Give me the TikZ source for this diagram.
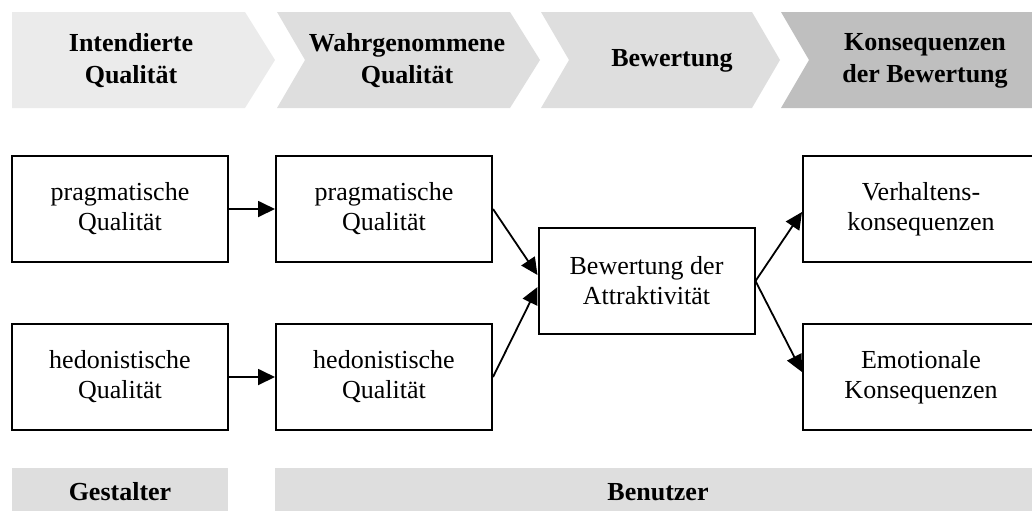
\documentclass[tikz,border=0pt]{standalone}
\usepackage{fontspec}
\setmainfont{Liberation Serif}
\usetikzlibrary{arrows.meta,calc}
\definecolor{chevA}{HTML}{EBEBEB}
\definecolor{chevB}{HTML}{DEDEDE}
\definecolor{chevC}{HTML}{BFBFBF}
\definecolor{barcol}{HTML}{DEDEDE}
\tikzset{
  box/.style={draw=black, line width=1pt, minimum width=108pt, minimum height=53pt,
    inner sep=0pt, align=center, font=\fontsize{13}{15}\selectfont},
  headtext/.style={align=center, font=\bfseries\fontsize{13}{16}\selectfont, inner sep=0pt},
  bartext/.style={font=\bfseries\fontsize{13}{15}\selectfont, inner sep=0pt},
  conn/.style={-{Triangle[length=8.5pt,width=8pt]}, line width=0.9pt}
}
\begin{document}
\begin{tikzpicture}[x=0.5pt,y=-0.5pt]
\useasboundingbox (0,0) rectangle (1032,510);
\clip (0,0) rectangle (1032,510);
% header chevrons
\fill[chevA] (12,12) -- (245,12) -- (275,60) -- (245,108) -- (12,108) -- cycle;
\fill[chevB] (277,12) -- (510,12) -- (540,60) -- (510,108) -- (277,108) -- (305,60) -- cycle;
\fill[chevB] (541,12) -- (752,12) -- (780,60) -- (752,108) -- (541,108) -- (569,60) -- cycle;
\fill[chevC] (781,12) -- (1032,12) -- (1032,108) -- (781,108) -- (809,60) -- cycle;
\node[headtext] (h1) at (131,61) {Intendierte\\Qualität};
\node[headtext] (h2) at (407,61) {Wahrgenommene\\Qualität};
\node[headtext] (h3) at (672,61) {Bewertung};
\node[headtext] (h4) at (925,61) {Konsequenzen\\der Bewertung};
% bottom bars
\fill[barcol] (12,468) rectangle (228,520);
\fill[barcol] (275,468) rectangle (1032,520);
\node[bartext] (g) at (120,492) {Gestalter};
\node[bartext] (b) at (658,492) {Benutzer};
% boxes
\node[box] (ip) at (120,209) {pragmatische\\Qualität};
\node[box] (ih) at (120,377) {hedonistische\\Qualität};
\node[box] (wp) at (384,209) {pragmatische\\Qualität};
\node[box] (wh) at (384,377) {hedonistische\\Qualität};
\node[box] (att) at (646.5,281) {Bewertung der\\Attraktivität};
\node[box, minimum width=118pt] (vk) at (921,209) {Verhaltens-\\konsequenzen};
\node[box, minimum width=118pt] (ek) at (921,377) {Emotionale\\Konsequenzen};
% connectors
\draw[conn] (ip.east) -- (wp.west);
\draw[conn] (ih.east) -- (wh.west);
\draw[conn] (wp.east) -- ($(att.west)+(0,-6)$);
\draw[conn] (wh.east) -- ($(att.west)+(0,6)$);
\draw[conn] (att.east) -- ($(vk.west)+(0,3)$);
\draw[conn] (att.east) -- ($(ek.west)+(0,-5)$);
\end{tikzpicture}
\end{document}
